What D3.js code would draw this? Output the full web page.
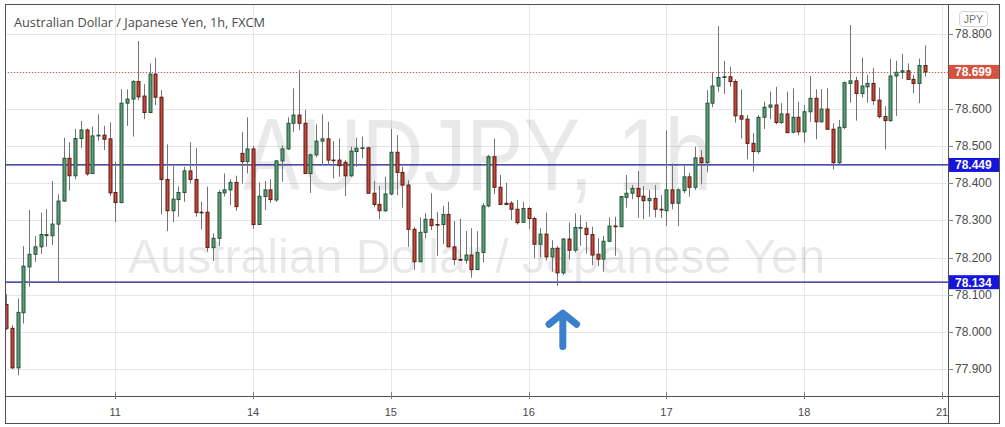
<!DOCTYPE html>
<html><head><meta charset="utf-8">
<script src="https://cdnjs.cloudflare.com/ajax/libs/d3/7.8.5/d3.min.js"></script>
<style>html,body{margin:0;padding:0;background:#fff;}svg{display:block;font-family:"Liberation Sans",Arial,sans-serif;}</style>
</head><body><svg id="c" width="1005" height="427"></svg>
<script>
const opens=[78.074,78.010,77.904,78.052,78.175,78.209,78.229,78.259,78.259,78.290,78.352,78.467,78.420,78.520,78.543,78.426,78.527,78.529,78.519,78.375,78.348,78.615,78.626,78.673,78.634,78.590,78.693,78.631,78.410,78.326,78.356,78.375,78.433,78.410,78.322,78.322,78.227,78.252,78.374,78.382,78.402,78.480,78.458,78.492,78.289,78.364,78.382,78.355,78.460,78.492,78.561,78.583,78.561,78.426,78.476,78.513,78.519,78.462,78.462,78.456,78.420,78.485,78.494,78.495,78.373,78.343,78.326,78.371,78.483,78.429,78.395,78.276,78.189,78.268,78.303,78.289,78.289,78.316,78.229,78.195,78.193,78.207,78.168,78.214,78.339,78.471,78.389,78.346,78.346,78.330,78.295,78.332,78.305,78.236,78.263,78.202,78.225,78.159,78.250,78.220,78.279,78.279,78.262,78.209,78.196,78.244,78.285,78.283,78.362,78.373,78.386,78.365,78.353,78.359,78.330,78.326,78.382,78.346,78.380,78.417,78.389,78.468,78.455,78.615,78.661,78.684,78.686,78.673,78.581,78.572,78.507,78.485,78.577,78.604,78.610,78.563,78.586,78.537,78.577,78.538,78.592,78.628,78.565,78.599,78.545,78.455,78.550,78.668,78.675,78.641,78.659,78.668,78.623,78.579,78.568,78.688,78.698,78.702,78.679,78.668,78.716];
const highs=[78.102,78.019,78.090,78.231,78.328,78.258,78.321,78.330,78.406,78.370,78.522,78.510,78.546,78.567,78.547,78.552,78.585,78.554,78.563,78.458,78.652,78.652,78.677,78.782,78.666,78.722,78.737,78.650,78.504,78.447,78.391,78.444,78.510,78.494,78.350,78.391,78.265,78.382,78.426,78.411,78.420,78.537,78.577,78.500,78.402,78.406,78.411,78.462,78.501,78.577,78.655,78.704,78.597,78.480,78.558,78.585,78.565,78.513,78.520,78.462,78.498,78.522,78.525,78.498,78.406,78.393,78.417,78.546,78.529,78.444,78.408,78.283,78.308,78.319,78.373,78.322,78.339,78.350,78.298,78.304,78.272,78.279,78.271,78.347,78.476,78.520,78.422,78.401,78.352,78.355,78.350,78.337,78.310,78.279,78.321,78.247,78.231,78.252,78.294,78.319,78.314,78.296,78.283,78.252,78.258,78.308,78.310,78.366,78.422,78.395,78.433,78.392,78.382,78.395,78.368,78.541,78.453,78.386,78.446,78.428,78.498,78.489,78.650,78.698,78.822,78.729,78.713,78.679,78.652,78.583,78.534,78.583,78.619,78.646,78.659,78.615,78.646,78.655,78.619,78.610,78.688,78.652,78.652,78.655,78.561,78.570,78.673,78.825,78.686,78.737,78.691,78.709,78.657,78.607,78.734,78.729,78.747,78.722,78.691,78.735,78.770];
const lows=[78.005,77.900,77.884,78.023,78.122,78.189,78.210,78.229,78.234,78.133,78.350,78.380,78.411,78.495,78.420,78.425,78.514,78.489,78.366,78.295,78.346,78.554,78.525,78.623,78.572,78.588,78.610,78.316,78.271,78.295,78.310,78.350,78.399,78.310,78.276,78.216,78.191,78.231,78.364,78.341,78.326,78.399,78.426,78.277,78.289,78.328,78.347,78.350,78.404,78.489,78.538,78.543,78.425,78.374,78.469,78.449,78.449,78.413,78.417,78.366,78.417,78.444,78.467,78.373,78.335,78.303,78.323,78.368,78.368,78.334,78.229,78.167,78.189,78.252,78.274,78.205,78.236,78.229,78.180,78.192,78.184,78.146,78.168,78.187,78.335,78.371,78.341,78.341,78.301,78.289,78.294,78.277,78.198,78.201,78.192,78.162,78.124,78.153,78.195,78.214,78.232,78.211,78.180,78.177,78.162,78.241,78.205,78.283,78.334,78.357,78.307,78.303,78.310,78.308,78.307,78.285,78.330,78.285,78.373,78.364,78.382,78.397,78.429,78.604,78.646,78.640,78.659,78.563,78.520,78.464,78.431,78.478,78.546,78.572,78.558,78.559,78.534,78.534,78.529,78.509,78.565,78.518,78.563,78.543,78.437,78.451,78.545,78.616,78.568,78.630,78.616,78.610,78.574,78.491,78.565,78.581,78.680,78.677,78.641,78.615,78.686];
const closes=[78.010,77.904,78.053,78.177,78.209,78.229,78.262,78.262,78.290,78.352,78.467,78.420,78.520,78.543,78.425,78.527,78.529,78.518,78.374,78.348,78.615,78.626,78.673,78.632,78.590,78.693,78.631,78.410,78.326,78.357,78.375,78.433,78.410,78.321,78.321,78.227,78.252,78.375,78.382,78.402,78.337,78.458,78.492,78.289,78.365,78.382,78.356,78.460,78.492,78.561,78.583,78.561,78.426,78.476,78.513,78.519,78.462,78.461,78.447,78.420,78.486,78.494,78.495,78.373,78.343,78.326,78.371,78.483,78.429,78.395,78.276,78.189,78.268,78.303,78.286,78.288,78.316,78.229,78.195,78.193,78.207,78.168,78.214,78.339,78.471,78.389,78.343,78.343,78.330,78.294,78.332,78.305,78.236,78.263,78.202,78.225,78.159,78.250,78.220,78.281,78.281,78.262,78.207,78.196,78.244,78.285,78.283,78.364,78.373,78.386,78.364,78.353,78.359,78.330,78.328,78.382,78.346,78.382,78.417,78.389,78.468,78.455,78.615,78.661,78.684,78.686,78.673,78.581,78.572,78.507,78.485,78.577,78.604,78.610,78.563,78.586,78.536,78.577,78.538,78.592,78.628,78.565,78.599,78.545,78.455,78.550,78.670,78.675,78.641,78.661,78.668,78.622,78.579,78.568,78.688,78.698,78.702,78.679,78.668,78.716,78.699];
const dayTickIndex=[19,43,67,91,115,139,163];
const dayTickLabels=["11","14","15","16","17","18","21"];
const priceTicks=[77.9,78.0,78.1,78.2,78.3,78.4,78.5,78.6,78.7,78.8];
const levelLines=[78.449,78.134];
const lastPrice=78.699;
const titleText="Australian Dollar / Japanese Yen, 1h, FXCM";
const watermark1="AUDJPY, 1h";
const watermark2="Australian Dollar / Japanese Yen";
const currency="JPY";
const arrowIndex=96.95, arrowTop=78.051, arrowBottom=77.961, arrowWing=0.03;

const svg=d3.select("#c");
const L=5,R=948,T=4,B=396,W=999,H=423;
const x=d3.scaleLinear().domain([0,160]).range([6.2,924.8]);
const y=d3.scaleLinear().domain([77.9,78.8]).range([369.3,34.3]);

svg.append("defs").append("clipPath").attr("id","pc").append("rect").attr("x",L).attr("y",T).attr("width",R-L).attr("height",B-T);

// grid
const g=svg.append("g").attr("clip-path","url(#pc)");
g.selectAll("line.h").data(priceTicks).enter().append("line").attr("x1",L).attr("x2",R)
 .attr("y1",d=>Math.round(y(d))+0.5).attr("y2",d=>Math.round(y(d))+0.5).attr("stroke","#e6e6e8");
g.selectAll("line.v").data(dayTickIndex).enter().append("line").attr("y1",T).attr("y2",B)
 .attr("x1",d=>Math.round(x(d))+0.5).attr("x2",d=>Math.round(x(d))+0.5).attr("stroke","#e6e6e8");

// watermark
g.append("text").attr("x",477.5).attr("y",190).attr("text-anchor","middle").attr("font-size",102)
 .attr("textLength",469).attr("lengthAdjust","spacingAndGlyphs").attr("fill","#000").attr("fill-opacity",0.085).text(watermark1);
g.append("text").attr("x",476.5).attr("y",273).attr("text-anchor","middle").attr("font-size",48)
 .attr("textLength",697).attr("lengthAdjust","spacingAndGlyphs").attr("fill","#000").attr("fill-opacity",0.085).text(watermark2);

// title
svg.append("text").attr("x",14).attr("y",26.5).attr("font-size",13).attr("fill","#4a4a4a")
 .attr("font-family","'Open Sans','Noto Sans',sans-serif").attr("textLength",251).attr("lengthAdjust","spacingAndGlyphs").text(titleText);

// last price dotted
g.append("line").attr("x1",L).attr("x2",R).attr("y1",Math.round(y(lastPrice))+0.5).attr("y2",Math.round(y(lastPrice))+0.5)
 .attr("stroke","#d75442").attr("stroke-dasharray","1,2");

// level lines
g.selectAll("line.lv").data(levelLines).enter().append("line").attr("x1",L).attr("x2",R)
 .attr("y1",d=>y(d)).attr("y2",d=>y(d)).attr("stroke","#16168c").attr("stroke-width",1.3);

// candles
const idx=d3.range(opens.length);
const cg=g.append("g");
cg.selectAll("line.w").data(idx).enter().append("line")
 .attr("x1",i=>Math.round(x(i))+0.5).attr("x2",i=>Math.round(x(i))+0.5)
 .attr("y1",i=>y(highs[i])).attr("y2",i=>y(lows[i])).attr("stroke","#737375");
cg.selectAll("rect.b").data(idx).enter().append("rect")
 .attr("x",i=>Math.round(x(i))-1)
 .attr("width",3)
 .attr("y",i=>y(Math.max(opens[i],closes[i])))
 .attr("height",i=>Math.max(0.6,Math.abs(y(opens[i])-y(closes[i]))))
 .attr("fill",i=>closes[i]>=opens[i]?"#5a9f78":"#c8493a")
 .attr("stroke",i=>closes[i]>=opens[i]?"#225437":"#5b1a13").attr("stroke-width",1);

// arrow
const ax=x(arrowIndex), at=y(arrowTop), ab=y(arrowBottom), aw=x(arrowIndex+2.4)-ax, ah=y(arrowTop-arrowWing)-at;
g.append("path").attr("d",`M${ax-aw},${at+ah}L${ax},${at}L${ax+aw},${at+ah}M${ax},${at+1}L${ax},${ab}`)
 .attr("fill","none").attr("stroke","#3b80cc").attr("stroke-width",7).attr("stroke-linecap","round").attr("stroke-linejoin","round");

// frame
svg.append("rect").attr("x",L+0.5).attr("y",T+0.5).attr("width",W-L).attr("height",H-T).attr("fill","none").attr("stroke","#505050");
svg.append("line").attr("x1",R+0.5).attr("x2",R+0.5).attr("y1",T).attr("y2",H).attr("stroke","#505050");
svg.append("line").attr("x1",L).attr("x2",W).attr("y1",B+0.5).attr("y2",B+0.5).attr("stroke","#505050");

// x axis
svg.selectAll("line.xt").data(dayTickIndex).enter().append("line")
 .attr("x1",d=>Math.round(x(d))+0.5).attr("x2",d=>Math.round(x(d))+0.5).attr("y1",392).attr("y2",399).attr("stroke","#808080");
svg.selectAll("text.xl").data(dayTickIndex).enter().append("text")
 .attr("x",d=>x(d)).attr("y",415.5).attr("text-anchor","middle").attr("font-size",11).attr("fill","#4a4a4a")
 .text((d,i)=>dayTickLabels[i]);

// y axis
svg.selectAll("line.yt").data(priceTicks).enter().append("line")
 .attr("x1",R).attr("x2",R+5).attr("y1",d=>Math.round(y(d))+0.5).attr("y2",d=>Math.round(y(d))+0.5).attr("stroke","#808080");
svg.selectAll("text.yl").data(priceTicks).enter().append("text")
 .attr("x",955).attr("y",d=>y(d)+4).attr("font-size",12).attr("fill","#4a4a4a").text(d=>d.toFixed(3));

// labels
function tag(v,col){
  const yy=y(v);
  svg.append("rect").attr("x",R+1).attr("y",yy-7).attr("width",W-R-1).attr("height",14).attr("fill",col);
  svg.append("text").attr("x",955).attr("y",yy+4.3).attr("font-size",12).attr("font-weight","bold").attr("fill","#fff").text(v.toFixed(3));
}
levelLines.forEach(v=>tag(v,"#1515dc"));
tag(lastPrice,"#d4523f");

// currency box
svg.append("rect").attr("x",959.5).attr("y",11.5).attr("width",28).attr("height",15).attr("rx",3).attr("fill","#fff").attr("stroke","#d4d4d4");
svg.append("text").attr("x",973.5).attr("y",23).attr("text-anchor","middle").attr("font-size",10.5).attr("fill","#777").text(currency);
</script></body></html>
